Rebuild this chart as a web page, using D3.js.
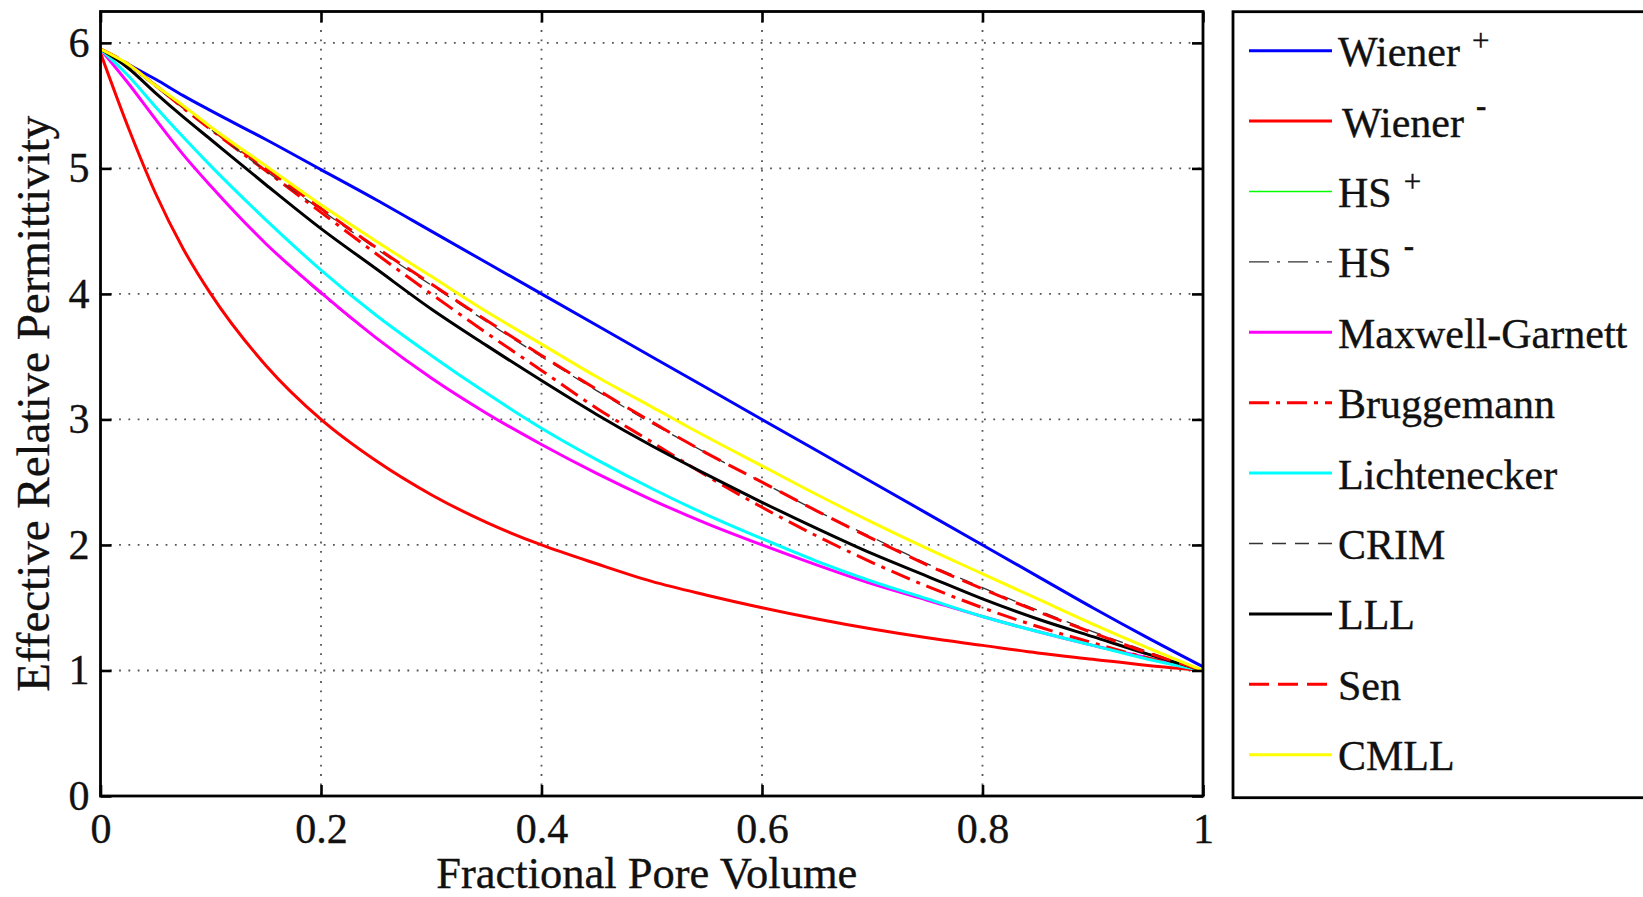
<!DOCTYPE html>
<html>
<head>
<meta charset="utf-8">
<script src="https://cdn.jsdelivr.net/npm/d3@7/dist/d3.min.js"></script>
<style>
  html, body { margin: 0; padding: 0; background: #fff; }
  svg { display: block; }
  text { font-family: "Liberation Serif", "Times New Roman", serif; fill: #111; stroke: #111; stroke-width: 0.35; }
</style>
</head>
<body>
<svg id="chart" width="1643" height="897"></svg>
<script>
// ---------- data ----------
const poreVolume = [0, 0.025, 0.05, 0.075, 0.1, 0.15, 0.2, 0.25, 0.3, 0.35, 0.4, 0.45, 0.5, 0.55, 0.6, 0.65, 0.7, 0.75, 0.8, 0.85, 0.9, 0.95, 1];

const wienerPlus   = [5.95, 5.83, 5.71, 5.58, 5.46, 5.23, 4.99, 4.75, 4.50, 4.25, 4.00, 3.75, 3.50, 3.25, 3.00, 2.75, 2.50, 2.25, 2.00, 1.75, 1.50, 1.26, 1.03];
const wienerMinus  = [5.92, 5.33, 4.80, 4.36, 4.00, 3.43, 3.00, 2.67, 2.40, 2.18, 2.00, 1.85, 1.71, 1.60, 1.50, 1.41, 1.33, 1.26, 1.20, 1.14, 1.09, 1.04, 1.00];
const hsPlus       = [5.95, 5.83, 5.66, 5.50, 5.33, 5.02, 4.71, 4.42, 4.14, 3.86, 3.60, 3.34, 3.10, 2.86, 2.63, 2.40, 2.18, 1.97, 1.77, 1.57, 1.37, 1.18, 1.00];
const hsMinus      = [5.95, 5.68, 5.39, 5.11, 4.86, 4.40, 4.00, 3.65, 3.33, 3.05, 2.80, 2.57, 2.36, 2.17, 2.00, 1.84, 1.69, 1.56, 1.43, 1.31, 1.20, 1.10, 1.00];
const maxwellGarnett = [5.95, 5.68, 5.39, 5.11, 4.86, 4.40, 4.01, 3.65, 3.33, 3.05, 2.80, 2.57, 2.36, 2.17, 2.00, 1.84, 1.69, 1.56, 1.43, 1.31, 1.20, 1.10, 1.00];
const bruggemann   = [5.95, 5.83, 5.66, 5.48, 5.31, 4.98, 4.65, 4.32, 4.00, 3.69, 3.39, 3.09, 2.82, 2.55, 2.30, 2.07, 1.86, 1.67, 1.50, 1.35, 1.22, 1.10, 1.00];
const lichtenecker = [5.95, 5.74, 5.49, 5.25, 5.02, 4.59, 4.19, 3.83, 3.51, 3.21, 2.93, 2.68, 2.45, 2.24, 2.05, 1.87, 1.71, 1.57, 1.43, 1.31, 1.20, 1.09, 1.00];
const crim         = [5.95, 5.82, 5.65, 5.48, 5.31, 4.98, 4.67, 4.36, 4.07, 3.78, 3.50, 3.23, 2.97, 2.73, 2.50, 2.27, 2.06, 1.85, 1.66, 1.48, 1.31, 1.15, 1.00];
const lll          = [5.95, 5.80, 5.60, 5.41, 5.23, 4.87, 4.52, 4.20, 3.88, 3.59, 3.31, 3.04, 2.79, 2.56, 2.34, 2.13, 1.93, 1.75, 1.57, 1.41, 1.27, 1.13, 1.00];
const sen          = [5.95, 5.83, 5.66, 5.49, 5.32, 5.00, 4.68, 4.37, 4.08, 3.79, 3.51, 3.24, 2.98, 2.73, 2.50, 2.27, 2.05, 1.84, 1.65, 1.47, 1.30, 1.14, 1.00];
const cmll         = [5.95, 5.83, 5.66, 5.50, 5.33, 5.02, 4.71, 4.42, 4.14, 3.86, 3.60, 3.34, 3.10, 2.86, 2.63, 2.40, 2.18, 1.97, 1.77, 1.57, 1.37, 1.18, 1.00];

const seriesNames = ["Wiener", "Wiener", "HS", "HS", "Maxwell-Garnett", "Bruggemann", "Lichtenecker", "CRIM", "LLL", "Sen", "CMLL"];
const seriesSup   = ["+", "-", "+", "-", "", "", "", "", "", "", ""];
const seriesValues = [wienerPlus, wienerMinus, hsPlus, hsMinus, maxwellGarnett, bruggemann, lichtenecker, crim, lll, sen, cmll];

const xTicks = [0, 0.2, 0.4, 0.6, 0.8, 1];
const yTicks = [0, 1, 2, 3, 4, 5, 6];
const xTitle = "Fractional Pore Volume";
const yTitle = "Effective Relative Permittivity";

// ---------- styles ----------
const styles = [
  { color: "#0000ff", width: 3, dash: null },
  { color: "#ff0000", width: 3, dash: null },
  { color: "#00ff00", width: 1.5, dash: null },
  { color: "#333333", width: 1.3, dash: "20,8,3,8" },
  { color: "#ff00ff", width: 3, dash: null },
  { color: "#ff0000", width: 3, dash: "20,7,4,7" },
  { color: "#00ffff", width: 3, dash: null },
  { color: "#333333", width: 1.3, dash: "14,9" },
  { color: "#000000", width: 3, dash: null },
  { color: "#ff0000", width: 3, dash: "20,9" },
  { color: "#ffff00", width: 3, dash: null }
];

(function () {
const svg = d3.select("#chart");
svg.append("rect").attr("width", 1643).attr("height", 897).attr("fill", "#fff");

const pL = 100.5, pR = 1203, pT = 11.5, pB = 796;
const x = d3.scaleLinear().domain([0, 1]).range([pL, pR]);
const y = d3.scaleLinear().domain([0, 6.25]).range([pB, pT]);

// grid
const grid = svg.append("g");
xTicks.filter(t => t > 0 && t < 1).forEach(t => {
  grid.append("line").attr("x1", x(t)).attr("x2", x(t)).attr("y1", pT).attr("y2", pB)
    .attr("stroke", "#555").attr("stroke-width", 1.8).attr("stroke-dasharray", "1.8,7.5");
});
yTicks.filter(t => t > 0).forEach(t => {
  grid.append("line").attr("x1", pL).attr("x2", pR).attr("y1", y(t)).attr("y2", y(t))
    .attr("stroke", "#555").attr("stroke-width", 1.8).attr("stroke-dasharray", "1.8,7.5");
});

// clip
svg.append("clipPath").attr("id", "plotclip").append("rect")
  .attr("x", pL).attr("y", pT).attr("width", pR - pL).attr("height", pB - pT);

const line = d3.line()
  .x((d, i) => x(poreVolume[i]))
  .y(d => y(d))
  .curve(d3.curveMonotoneX);

const lines = svg.append("g").attr("clip-path", "url(#plotclip)");
seriesValues.forEach((vals, k) => {
  const st = styles[k];
  lines.append("path").datum(vals)
    .attr("d", line)
    .attr("fill", "none")
    .attr("stroke", st.color)
    .attr("stroke-width", st.width)
    .attr("stroke-dasharray", st.dash)
    .attr("stroke-linejoin", "round");
});

// axes
const tickLen = 11;
const axB = svg.append("g").attr("transform", `translate(0,${pB})`)
  .call(d3.axisBottom(x).tickValues(xTicks).tickSize(-tickLen).tickSizeOuter(0).tickPadding(17)
    .tickFormat(d => d === 0 || d === 1 ? String(d) : d3.format(".1f")(d)));
const axT = svg.append("g").attr("transform", `translate(0,${pT})`)
  .call(d3.axisTop(x).tickValues(xTicks).tickSize(-tickLen).tickSizeOuter(0).tickFormat(""));
const axL = svg.append("g").attr("transform", `translate(${pL},0)`)
  .call(d3.axisLeft(y).tickValues(yTicks).tickSize(-tickLen).tickSizeOuter(0).tickPadding(11).tickFormat(d3.format("d")));
const axR = svg.append("g").attr("transform", `translate(${pR},0)`)
  .call(d3.axisRight(y).tickValues(yTicks).tickSize(-tickLen).tickSizeOuter(0).tickFormat(""));

[axB, axT, axL, axR].forEach(a => {
  a.select(".domain").remove();
  a.selectAll(".tick line").attr("stroke", "#000").attr("stroke-width", 2.6);
  a.selectAll(".tick text").attr("font-family", "Liberation Serif").attr("font-size", 42)
    .attr("fill", "#111").attr("stroke", "#111").attr("stroke-width", 0.35);
});

svg.append("rect").attr("x", pL).attr("y", pT).attr("width", pR - pL).attr("height", pB - pT)
  .attr("fill", "none").attr("stroke", "#000").attr("stroke-width", 2.8);

// axis titles
svg.append("text").attr("x", (pL + pR) / 2 - 5).attr("y", 888)
  .attr("text-anchor", "middle").attr("font-size", 44.5).text(xTitle);
svg.append("text").attr("transform", `translate(49,${(pT + pB) / 2}) rotate(-90)`)
  .attr("text-anchor", "middle").attr("font-size", 47).text(yTitle);

// legend
const lg = svg.append("g");
lg.append("rect").attr("x", 1233).attr("y", 11.7).attr("width", 460).attr("height", 786)
  .attr("fill", "#fff").attr("stroke", "#000").attr("stroke-width", 2.8);
seriesNames.forEach((name, k) => {
  const st = styles[k];
  const yy = 50.7 + k * 70.4;
  lg.append("line").attr("x1", 1249).attr("x2", 1332).attr("y1", yy).attr("y2", yy)
    .attr("stroke", st.color).attr("stroke-width", st.width).attr("stroke-dasharray", st.dash);
  const t = lg.append("text").attr("x", k === 1 ? 1342 : 1338).attr("y", yy + 15.5)
    .attr("font-size", 42).text(name);
  if (seriesSup[k] === "+") {
    t.append("tspan").attr("dx", 12).attr("dy", -15).attr("font-size", 31).text("+");
  } else if (seriesSup[k] === "-") {
    t.append("tspan").attr("dx", 12).attr("dy", -21).attr("font-size", 31).attr("font-weight", "bold").text("-");
  }
});
})();
</script>
</body>
</html>
